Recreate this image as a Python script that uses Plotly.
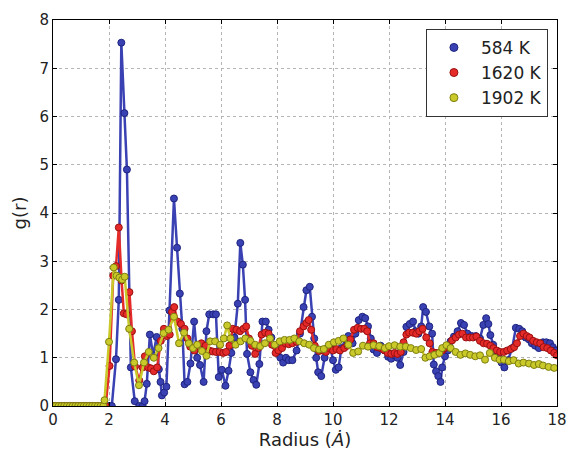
import plotly.graph_objects as go

zero_r = [0.0, 0.1, 0.2, 0.3, 0.4, 0.5, 0.6, 0.7, 0.8, 0.9, 1.0, 1.1, 1.2, 1.3, 1.4, 1.5, 1.6, 1.7, 1.8]

r_584 = zero_r + [1.9, 2.0, 2.1, 2.25, 2.35, 2.44, 2.55, 2.64, 2.78, 2.92, 3.08, 3.2, 3.27, 3.35, 3.46, 3.58, 3.7, 3.78,
        3.84, 3.89, 3.97, 4.05, 4.16, 4.32, 4.43, 4.53, 4.62, 4.7, 4.8, 4.91, 5.04, 5.15, 5.25, 5.38, 5.48, 5.58,
        5.72, 5.82, 5.92, 6.03, 6.16, 6.27, 6.37, 6.48, 6.6, 6.69, 6.78, 6.86, 6.93, 7.05, 7.16, 7.26, 7.37, 7.48,
        7.6, 7.7, 7.8, 7.92, 8.02, 8.12, 8.22, 8.32, 8.42, 8.55, 8.7, 8.82, 8.95, 9.05, 9.17, 9.25, 9.33, 9.4, 9.47,
        9.58, 9.7, 9.8, 9.9, 10.0, 10.1, 10.2, 10.3, 10.45, 10.55, 10.7, 10.8, 10.92, 11.05, 11.15, 11.25, 11.35,
        11.45, 11.57, 11.7, 11.85, 11.97, 12.08, 12.2, 12.3, 12.4, 12.52, 12.62, 12.74, 12.86, 12.95, 13.05, 13.15,
        13.22, 13.32, 13.44, 13.54, 13.6, 13.68, 13.76, 13.84, 13.9, 14.0, 14.1, 14.2, 14.32, 14.45, 14.57, 14.68,
        14.8, 14.95, 15.1, 15.25, 15.37, 15.47, 15.55, 15.62, 15.72, 15.82, 15.92, 16.02, 16.12, 16.25, 16.4, 16.53,
        16.65, 16.76, 16.88, 17.0, 17.1, 17.22, 17.35, 17.5, 17.62, 17.75, 17.85, 17.95]
g_584 = [0.0] * 19 + [0.0, 0.0, 0.0, 0.97, 2.2, 7.53, 6.07, 4.9, 0.8, 0.1, 0.0, 0.0, 0.1, 0.46, 1.48, 1.05, 1.43, 0.76,
         0.5, 0.22, 0.28, 0.4, 1.98, 4.3, 3.28, 2.33, 1.6, 0.45, 0.5, 0.88, 1.75, 1.0, 0.85, 0.5, 1.55, 1.9,
         1.9, 1.9, 0.6, 0.75, 0.42, 0.73, 1.1, 1.42, 2.12, 3.38, 2.93, 2.2, 1.08, 0.7, 0.54, 0.44, 0.87, 1.75,
         1.75, 1.58, 1.42, 1.25, 1.1, 1.0, 0.9, 1.0, 0.95, 0.95, 1.15, 1.5, 2.05, 2.4, 2.47, 1.85, 1.4, 1.0, 0.7,
         0.62, 1.0, 1.2, 1.25, 0.95, 0.75, 0.8, 1.2, 1.38, 1.45, 1.3, 1.5, 1.78, 1.85, 1.82, 1.65, 1.4,
         1.17, 1.1, 1.25, 1.15, 1.02, 0.98, 1.05, 1.0, 0.85, 1.12, 1.64, 1.7, 1.75, 1.55, 1.5, 1.65,
         2.05, 1.95, 1.65, 1.5, 0.86, 0.72, 0.62, 0.5, 0.8, 1.03, 1.15, 1.34, 1.44, 1.55, 1.72, 1.68,
         1.5, 1.45, 1.45, 1.4, 1.68, 1.82, 1.7, 1.47, 1.27, 1.12, 1.0, 0.9, 0.8, 0.95, 1.2, 1.62,
         1.6, 1.55, 1.42, 1.38, 1.3, 1.25, 1.2, 1.32, 1.32, 1.3, 1.22, 1.15]

r_1620 = zero_r + [1.88, 2.02, 2.15, 2.25, 2.35, 2.45, 2.53, 2.63, 2.73, 2.82, 2.93, 3.08, 3.2, 3.28, 3.4, 3.5, 3.6,
         3.72, 3.85, 3.96, 4.07, 4.17, 4.25, 4.33, 4.45, 4.57, 4.7, 4.8, 4.9, 5.05, 5.18, 5.3, 5.45, 5.58, 5.7,
         5.82, 5.95, 6.08, 6.18, 6.3, 6.42, 6.55, 6.68, 6.8, 6.9, 7.0, 7.1, 7.22, 7.33, 7.45, 7.58, 7.7, 7.82,
         7.95, 8.05, 8.18, 8.3, 8.42, 8.55, 8.7, 8.82, 8.95, 9.05, 9.13, 9.22, 9.35, 9.5, 9.62, 9.75, 9.88, 10.0,
         10.12, 10.25, 10.4, 10.52, 10.62, 10.75, 10.88, 11.0, 11.12, 11.22, 11.32, 11.45, 11.58, 11.7, 11.82,
         11.95, 12.08, 12.2, 12.3, 12.42, 12.52, 12.62, 12.72, 12.85, 12.97, 13.08, 13.2, 13.33, 13.45, 13.55,
         13.68, 13.8, 13.9, 14.0, 14.12, 14.25, 14.38, 14.5, 14.62, 14.75, 14.88, 15.0, 15.12, 15.25, 15.38,
         15.5, 15.62, 15.73, 15.85, 15.97, 16.1, 16.22, 16.35, 16.47, 16.57, 16.68, 16.8, 16.92, 17.02, 17.15,
         17.28, 17.4, 17.52, 17.65, 17.78, 17.9, 18.0]
g_1620 = [0.0] * 19 + [0.0, 0.83, 2.7, 2.9, 3.7, 2.6, 1.92, 1.9, 2.36, 1.55, 0.82, 0.53, 0.8, 1.03, 0.8, 0.78, 0.72,
          0.8, 1.35, 1.6, 1.45, 1.48, 1.95, 2.05, 1.75, 1.7, 1.6, 1.4, 1.23, 1.15, 1.25, 1.3, 1.25, 1.15, 1.13,
          1.12, 1.12, 1.1, 1.12, 1.25, 1.6, 1.58, 1.55, 1.6, 1.65, 1.4, 1.25, 1.08, 1.2, 1.48, 1.52, 1.5, 1.27,
          1.1, 1.15, 1.2, 1.3, 1.28, 1.3, 1.33, 1.55, 1.65, 1.72, 1.78, 1.58, 1.25, 1.14, 1.15, 1.12, 1.2, 1.15,
          1.18, 1.15, 1.2, 1.25, 1.38, 1.58, 1.62, 1.6, 1.6, 1.55, 1.3, 1.3, 1.22, 1.2, 1.16,
          1.1, 1.08, 1.1, 1.08, 1.12, 1.32, 1.48, 1.52, 1.52, 1.5, 1.55, 1.6, 1.42, 1.3, 1.12,
          1.1, 1.1, 1.15, 1.2, 1.22, 1.36, 1.42, 1.48, 1.5, 1.42, 1.42, 1.42, 1.44, 1.35, 1.3,
          1.29, 1.25, 1.2, 1.15, 1.12, 1.12, 1.15, 1.18, 1.22, 1.3, 1.45, 1.5, 1.45, 1.42, 1.35,
          1.32, 1.3, 1.22, 1.2, 1.15, 1.1, 1.05]

r_1902 = zero_r + [1.84, 2.0, 2.17, 2.27, 2.37, 2.47, 2.56, 2.72, 2.9, 3.07, 3.25, 3.42, 3.6, 3.77, 3.95, 4.13, 4.32,
         4.5, 4.68, 4.85, 5.0, 5.15, 5.32, 5.48, 5.61, 5.79, 5.97, 6.1, 6.22, 6.34, 6.52, 6.7, 6.87, 7.05, 7.22,
         7.4, 7.57, 7.75, 7.92, 8.1, 8.27, 8.45, 8.62, 8.8, 8.97, 9.15, 9.32, 9.5, 9.67, 9.85, 10.03, 10.2, 10.37,
         10.55, 10.72, 10.9, 11.07, 11.25, 11.45, 11.65, 11.85, 12.0, 12.2, 12.4, 12.6, 12.78, 12.97, 13.15, 13.3,
         13.45, 13.62, 13.8, 13.9, 14.05, 14.2, 14.38, 14.55, 14.73, 14.9, 15.08, 15.25, 15.43, 15.6, 15.78,
         15.95, 16.1, 16.28, 16.45, 16.63, 16.8, 17.0, 17.18, 17.35, 17.5, 17.7, 17.9]
g_1902 = [0.0] * 19 + [0.12, 1.33, 2.87, 2.7, 2.66, 2.62, 2.68, 1.6, 0.9, 0.43, 0.9, 1.12, 1.0, 1.2, 1.51, 1.58, 1.85,
          1.3, 1.52, 1.3, 1.2, 1.27, 1.14, 1.04, 1.34, 1.34, 1.27, 1.4, 1.67, 1.4, 1.27, 1.34, 1.4, 1.35, 1.27,
          1.24, 1.3, 1.4, 1.27, 1.34, 1.37, 1.37, 1.4, 1.34, 1.3, 1.27, 1.2, 1.17, 1.18, 1.27, 1.32, 1.35, 1.4,
          1.27, 1.1, 1.13, 1.25, 1.23, 1.26, 1.24, 1.2, 1.24, 1.26, 1.23, 1.23, 1.2, 1.16, 1.18, 1.0,
          1.03, 1.06, 1.1, 1.2, 1.26, 1.2, 1.12, 1.06, 1.09, 1.06, 1.03, 1.05, 0.96, 1.1, 1.0,
          0.96, 0.96, 0.93, 0.95, 0.88, 0.9, 0.88, 0.85, 0.87, 0.84, 0.81, 0.79]

series = [
    ("584 K", r_584, g_584, "#3a41b2", "#1e2480"),
    ("1620 K", r_1620, g_1620, "#e52a2a", "#9a1010"),
    ("1902 K", r_1902, g_1902, "#c9c92a", "#7e7e10"),
]

x_ticks = [0, 2, 4, 6, 8, 10, 12, 14, 16, 18]
y_ticks = [0, 1, 2, 3, 4, 5, 6, 7, 8]

fig = go.Figure()
for name, r, g, col, edge in series:
    fig.add_trace(go.Scatter(
        x=r, y=g, mode="lines+markers", name=name, showlegend=False, cliponaxis=True,
        line=dict(color=col, width=2.5),
        marker=dict(color=col, size=7, line=dict(color=edge, width=1)),
    ))
for name, r, g, col, edge in series:
    fig.add_trace(go.Scatter(
        x=[None], y=[None], mode="markers", name=name,
        marker=dict(color=col, size=8, line=dict(color=edge, width=1)),
    ))

fig.update_layout(
    width=578, height=459,
    margin=dict(l=53, r=11, t=12, b=53),
    paper_bgcolor="white", plot_bgcolor="white",
    font=dict(family="DejaVu Sans", color="#222222"),
    legend=dict(
        x=0.982, y=0.977, xanchor="right", yanchor="top",
        bgcolor="white", bordercolor="#333333", borderwidth=1,
        font=dict(size=17, color="#222222"),
        itemwidth=44, tracegroupgap=4,
    ),
    showlegend=True,
)
fig.update_xaxes(
    range=[0, 18], tickvals=x_ticks, ticktext=[str(v) for v in x_ticks],
    showline=True, linecolor="black", linewidth=1, mirror="allticks",
    ticks="inside", ticklen=4, tickcolor="black",
    showgrid=True, gridcolor="#b4b4b4", griddash="dot", gridwidth=1,
    zeroline=False, tickfont=dict(size=15),
    title=dict(text="Radius (<i>Ȧ</i>)", font=dict(size=18), standoff=5),
)
fig.update_yaxes(
    range=[0, 8], tickvals=y_ticks, ticktext=[str(v) for v in y_ticks],
    showline=True, linecolor="black", linewidth=1, mirror="allticks",
    ticks="inside", ticklen=4, tickcolor="black",
    showgrid=True, gridcolor="#b4b4b4", griddash="dot", gridwidth=1,
    zeroline=False, tickfont=dict(size=15),
    title=dict(text="g(r)", font=dict(size=18), standoff=8),
)

fig.write_html("out.html")
